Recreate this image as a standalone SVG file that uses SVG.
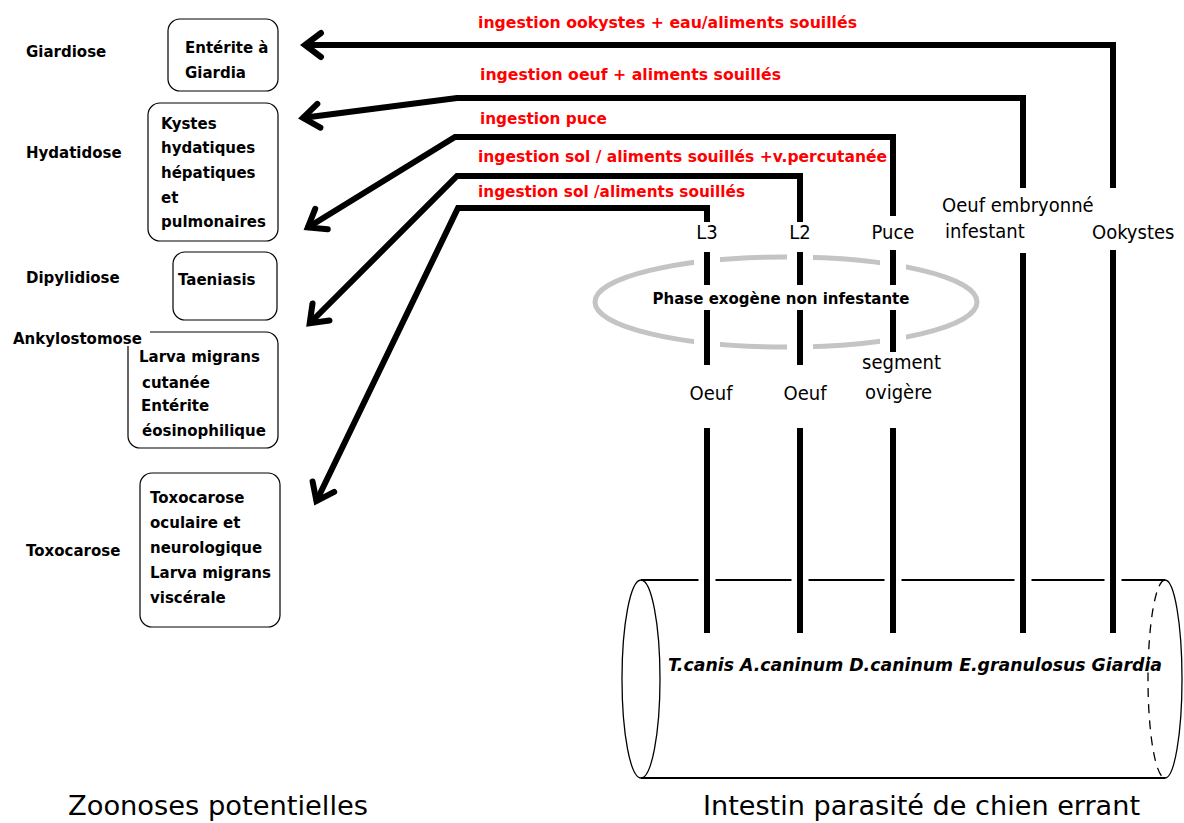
<svg xmlns="http://www.w3.org/2000/svg" width="1184" height="823" viewBox="0 0 1184 823">
<style>
.b{font-family:"DejaVu Sans","Liberation Sans",sans-serif;font-weight:bold;font-size:15px;fill:#000}
.r{font-family:"DejaVu Sans","Liberation Sans",sans-serif;font-weight:bold;font-size:15px;fill:#ff0000}
.c{font-family:"DejaVu Sans Condensed","Liberation Sans Narrow","Liberation Sans",sans-serif;font-size:20px;fill:#000}
.t{font-family:"DejaVu Sans Condensed","Liberation Sans",sans-serif;font-size:26px;fill:#000}
.sp{font-family:"DejaVu Sans","Liberation Sans",sans-serif;font-weight:bold;font-style:italic;font-size:17px;fill:#000}
.box{fill:#fff;stroke:#000;stroke-width:1.2}
.con{fill:none;stroke:#000;stroke-width:6;stroke-linejoin:miter}
.seg{fill:none;stroke:#000;stroke-width:6}
.halo{fill:none;stroke:#fff;stroke-width:26}
.thin{fill:none;stroke:#000;stroke-width:1.3}
</style>
<defs>
<marker id="ah" markerUnits="userSpaceOnUse" markerWidth="50" markerHeight="50" viewBox="-25 -25 50 50" refX="0" refY="0" orient="auto" overflow="visible">
<path d="M-17,-12 L-1,0 L-17,12" fill="none" stroke="#000" stroke-width="6" stroke-linecap="round" stroke-linejoin="miter"/>
</marker>
</defs>
<rect width="1184" height="823" fill="#fff"/>

<g id="phase">
<ellipse cx="786" cy="302" rx="191" ry="45" fill="none" stroke="#c4c4c4" stroke-width="5"/>
</g>

<g id="intestin">
<ellipse cx="641" cy="679" rx="19" ry="99" class="thin"/>
<path d="M641,580 H1165" stroke="#000" stroke-width="2" fill="none"/>
<path d="M641,778 H1165" stroke="#000" stroke-width="2" fill="none"/>
<path d="M1165,580 A17,99 0 0 1 1165,778" class="thin"/>
<path d="M1165,580 A17,99 0 0 0 1165,778" class="thin" stroke-dasharray="9 7"/>
</g>

<g id="connectors">
<path class="con" d="M1113,188 V45 H304" marker-end="url(#ah)"/>
<path class="con" d="M1023,188 V98 H457 L302,118" marker-end="url(#ah)"/>
<path class="con" d="M893,216 V137 H455 L307,228" marker-end="url(#ah)"/>
<path class="con" d="M800,222 V176 H457 L309,324" marker-end="url(#ah)"/>
<path class="con" d="M707,222 V208 H458 L316,502" marker-end="url(#ah)"/>
<g class="halo">
<path d="M707,252 V285 M707,310 V365 M800,252 V285 M800,310 V365 M893,250 V285 M893,310 V352"/>
<path d="M707,428 V633 M800,428 V633 M893,428 V633 M1023,253 V633 M1113,250 V633" stroke-width="17"/>
</g>
<g class="seg">
<path d="M707,252 V285 M707,310 V365 M800,252 V285 M800,310 V365 M893,250 V285 M893,310 V352"/>
<path d="M707,428 V633 M800,428 V633 M893,428 V633 M1023,253 V633 M1113,250 V633"/>
</g>
</g>

<g id="phase-label">
<text class="b" x="781" y="304" text-anchor="middle">Phase exogène non infestante</text>
</g>

<g id="labels-stages">
<text class="c" x="707" y="239" text-anchor="middle">L3</text>
<text class="c" x="800" y="239" text-anchor="middle">L2</text>
<text class="c" x="893" y="239" text-anchor="middle">Puce</text>
<text class="c" x="942" y="212">Oeuf embryonné</text>
<text class="c" x="945" y="238">infestant</text>
<text class="c" x="1092" y="239">Ookystes</text>
<text class="c" x="711" y="400" text-anchor="middle">Oeuf</text>
<text class="c" x="805" y="400" text-anchor="middle">Oeuf</text>
<text class="c" x="862" y="369">segment</text>
<text class="c" x="865" y="399">ovigère</text>
</g>

<g id="labels-routes">
<text class="r" x="478" y="28" textLength="379" lengthAdjust="spacingAndGlyphs">ingestion ookystes + eau/aliments souillés</text>
<text class="r" x="480" y="80" textLength="301" lengthAdjust="spacingAndGlyphs">ingestion oeuf  +  aliments souillés</text>
<text class="r" x="480" y="124" textLength="127" lengthAdjust="spacingAndGlyphs">ingestion puce</text>
<text class="r" x="478" y="162" textLength="409" lengthAdjust="spacingAndGlyphs">ingestion sol / aliments souillés +v.percutanée</text>
<text class="r" x="478" y="197" textLength="267" lengthAdjust="spacingAndGlyphs">ingestion sol /aliments souillés</text>
</g>

<g id="species">
<text class="sp" x="668" y="671" textLength="494" lengthAdjust="spacingAndGlyphs">T.canis A.caninum D.caninum E.granulosus Giardia</text>
</g>

<g id="giardiose">
<text class="b" x="26" y="57">Giardiose</text>
</g>
<g id="box-giardia">
<rect class="box" x="168" y="19" width="110" height="72" rx="12"/>
<text class="b" x="185" y="53">Entérite à</text>
<text class="b" x="185" y="78">Giardia</text>
</g>

<g id="hydatidose">
<text class="b" x="26" y="158">Hydatidose</text>
</g>
<g id="box-kystes">
<rect class="box" x="148" y="103" width="130" height="138" rx="12"/>
<text class="b" x="161" y="129">Kystes</text>
<text class="b" x="161" y="153">hydatiques</text>
<text class="b" x="161" y="178">hépatiques</text>
<text class="b" x="161" y="203">et</text>
<text class="b" x="161" y="227">pulmonaires</text>
</g>

<g id="dipylidiose">
<text class="b" x="26" y="283">Dipylidiose</text>
</g>
<g id="box-taeniasis">
<rect class="box" x="173" y="252" width="104" height="68" rx="12"/>
<text class="b" x="178" y="285">Taeniasis</text>
</g>

<g id="box-larva">
<rect class="box" x="128" y="332" width="150" height="116" rx="12"/>
<text class="b" x="139" y="362">Larva migrans</text>
<text class="b" x="142" y="388">cutanée</text>
<text class="b" x="141" y="411">Entérite</text>
<text class="b" x="142" y="436">éosinophilique</text>
</g>
<g id="ankylostomose">
<rect x="10" y="328" width="140" height="18" fill="#fff"/>
<text class="b" x="13" y="344">Ankylostomose</text>
</g>

<g id="toxocarose">
<text class="b" x="26" y="556">Toxocarose</text>
</g>
<g id="box-toxocarose">
<rect class="box" x="140" y="473" width="140" height="154" rx="12"/>
<text class="b" x="150" y="503">Toxocarose</text>
<text class="b" x="150" y="528">oculaire et</text>
<text class="b" x="150" y="553">neurologique</text>
<text class="b" x="150" y="578">Larva migrans</text>
<text class="b" x="150" y="603">viscérale</text>
</g>

<g id="titles">
<text class="t" x="68" y="815" textLength="300" lengthAdjust="spacingAndGlyphs">Zoonoses potentielles</text>
<text class="t" x="703" y="815" textLength="437" lengthAdjust="spacingAndGlyphs">Intestin parasité de chien errant</text>
</g>
</svg>
